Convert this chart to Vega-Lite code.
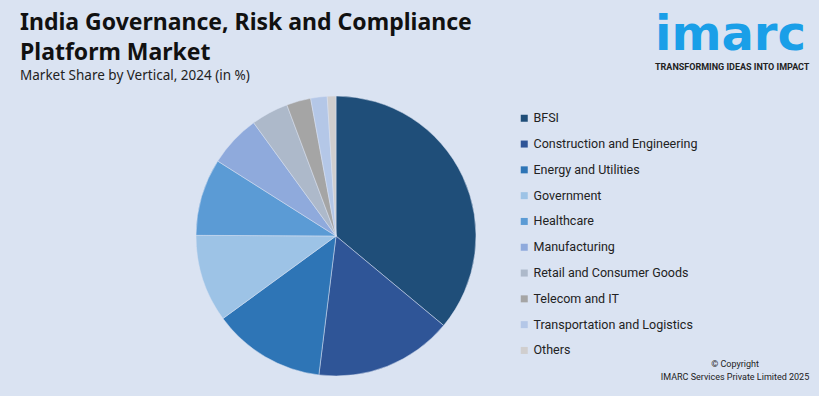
{
  "$schema": "https://vega.github.io/schema/vega-lite/v6.json",
  "autosize": "none",
  "width": 280,
  "height": 280,
  "padding": {"left": 196, "top": 96, "right": 343, "bottom": 20},
  "background": "#dae3f2",
  "config": {"view": {"stroke": null}},
  "title": {
    "text": ["India Governance, Risk and Compliance", "Platform Market"],
    "subtitle": "Market Share by Vertical, 2024 (in %)",
    "anchor": "start",
    "frame": "group",
    "dx": -176,
    "dy": 82,
    "offset": 12,
    "font": "Noto Sans",
    "fontSize": 23,
    "fontWeight": "bold",
    "color": "#111111",
    "lineHeight": 30,
    "subtitleFont": "Noto Sans",
    "subtitleFontSize": 13.5,
    "subtitleColor": "#222222",
    "subtitlePadding": 4
  },
  "data": {
    "values": [
      {"vertical": "BFSI", "share": 36.0, "order": 1},
      {"vertical": "Construction and Engineering", "share": 15.9, "order": 2},
      {"vertical": "Energy and Utilities", "share": 13.0, "order": 3},
      {"vertical": "Government", "share": 10.1, "order": 4},
      {"vertical": "Healthcare", "share": 8.9, "order": 5},
      {"vertical": "Manufacturing", "share": 6.0, "order": 6},
      {"vertical": "Retail and Consumer Goods", "share": 4.3, "order": 7},
      {"vertical": "Telecom and IT", "share": 2.8, "order": 8},
      {"vertical": "Transportation and Logistics", "share": 1.9, "order": 9},
      {"vertical": "Others", "share": 1.0, "order": 10}
    ]
  },
  "layer": [
    {
      "mark": {"type": "arc", "outerRadius": 140, "stroke": "#dae3f2", "strokeWidth": 0.5},
      "encoding": {
        "theta": {"field": "share", "type": "quantitative", "stack": true},
        "order": {"field": "order", "type": "quantitative"},
        "color": {
          "field": "vertical",
          "type": "nominal",
          "sort": ["BFSI", "Construction and Engineering", "Energy and Utilities", "Government", "Healthcare", "Manufacturing", "Retail and Consumer Goods", "Telecom and IT", "Transportation and Logistics", "Others"],
          "scale": {
            "domain": ["BFSI", "Construction and Engineering", "Energy and Utilities", "Government", "Healthcare", "Manufacturing", "Retail and Consumer Goods", "Telecom and IT", "Transportation and Logistics", "Others"],
            "range": ["#1f4e79", "#2f5597", "#2e75b6", "#9dc3e6", "#5b9bd5", "#8faadc", "#adb9ca", "#a5a5a5", "#b4c7e7", "#d0cece"]
          },
          "legend": {
            "title": null,
            "orient": "none",
            "legendX": 322,
            "legendY": 16,
            "symbolType": "square",
            "symbolSize": 49,
            "symbolStrokeWidth": 0,
            "labelFont": "Roboto",
            "labelFontSize": 12.5,
            "labelColor": "#222222",
            "labelOffset": 3,
            "rowPadding": 12.8,
            "padding": 0,
            "labelLimit": 300
          }
        }
      }
    },
    {
      "data": {"values": [{"t": "imarc"}]},
      "mark": {"type": "text", "font": "DejaVu Sans", "fontSize": 48, "fontWeight": "bold", "color": "#1a9fe8", "align": "left", "baseline": "alphabetic", "x": 459, "y": -46},
      "encoding": {"text": {"field": "t"}}
    },
    {
      "data": {"values": [{"t": "TRANSFORMING IDEAS INTO IMPACT"}]},
      "mark": {"type": "text", "font": "Roboto", "fontSize": 9, "fontWeight": "bold", "color": "#222222", "align": "left", "baseline": "alphabetic", "x": 459, "y": -26},
      "encoding": {"text": {"field": "t"}}
    },
    {
      "data": {"values": [{"t": "© Copyright"}]},
      "mark": {"type": "text", "font": "Roboto", "fontSize": 9, "color": "#222222", "align": "center", "baseline": "alphabetic", "x": 539, "y": 271},
      "encoding": {"text": {"field": "t"}}
    },
    {
      "data": {"values": [{"t": "IMARC Services Private Limited 2025"}]},
      "mark": {"type": "text", "font": "Roboto", "fontSize": 9, "color": "#222222", "align": "center", "baseline": "alphabetic", "x": 539, "y": 284},
      "encoding": {"text": {"field": "t"}}
    }
  ]
}
